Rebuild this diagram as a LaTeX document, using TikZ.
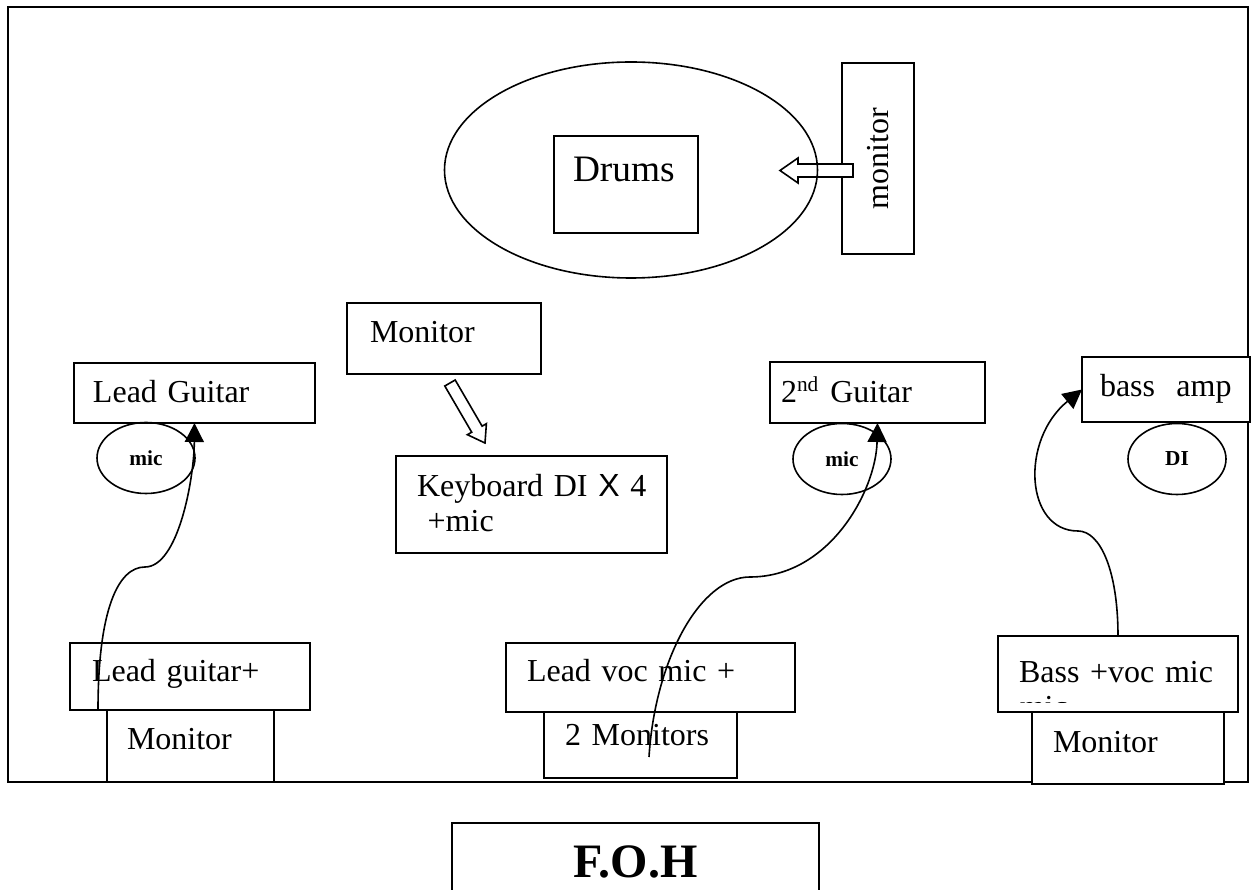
\documentclass[tikz,border=0pt]{standalone}
\usepackage{fontspec}
\setmainfont{Liberation Serif}
\newfontfamily\arialfont{Liberation Sans}
\usetikzlibrary{shapes.geometric}
\usetikzlibrary{arrows.meta}

\newcommand{\px}[1]{\fpeval{(#1)*0.375}pt}
\newcommand{\boxfont}{\fontsize{12}{13.1}\selectfont\spaceskip 2.6pt\relax}
\tikzset{
  stagebox/.style n args={4}{draw, fill=white, anchor=north west, align=left,
    outer sep=0pt, inner ysep=0pt, inner xsep=\px{#3},
    text width=\px{#1-2*#3}, text height=\px{#4}, text depth=\px{#2-#4},
    font=\boxfont},
  micbox/.style={draw, ellipse, inner sep=0pt, minimum width=\px{98},
    minimum height=\px{71}, font=\fontsize{8}{9}\selectfont\bfseries},
  cable/.style={-{Triangle[length=\px{19},width=\px{19}]}},
  cue/.style={draw, fill=white}
}

\begin{document}
\begin{tikzpicture}[x=0.375pt, y=-0.375pt, line width=0.6pt]
\useasboundingbox (0,0) rectangle (1252,890);
\clip (0,0) rectangle (1252,890);

% stage
\draw (8,7) rectangle (1248,782);

% drum riser
\node (drums) [stagebox={144}{97}{19}{46}, font=\fontsize{14}{16}\selectfont] at (554,136) {Drums};
\node (drummon) [draw, fill=white, rotate=90, inner sep=0pt, minimum width=\px{191},
  minimum height=\px{72}, font=\fontsize{12}{13.1}\selectfont] at (878,158.5) {monitor};
\draw[cue] (853,164) -- (798,164) -- (798,158) -- (780,170.5) -- (798,183) -- (798,177) -- (853,177) -- cycle;
\node (riser) [draw, ellipse, minimum width=\px{373}, minimum height=\px{216}] at (631,170) {};

% keyboard
\node (keymon) [stagebox={194}{71}{23}{40}] at (347,303) {Monitor};
\draw[cue] (444.8,386) -- (455.2,380) -- (482.1,426.2) -- (486.4,423.7) -- (485,443) -- (467.4,434.7) -- (471.7,432.2) -- cycle;
\node (keys) [stagebox={271}{97}{21}{41}] at (396,456) {\mbox{Keyboard DI {\arialfont X} 4}\\\ +mic};

% amps and mics
\node (leadgtr) [stagebox={241}{60}{19}{40}] at (74,363) {Lead Guitar};
\node (micL) [micbox] at (146,458) {mic};
\node (gtr2) [stagebox={215}{61}{11}{41}] at (770,362) {2\textsuperscript{nd} Guitar};
\node (micR) [micbox] at (842,459) {mic};
\node (bassamp) [stagebox={168}{65}{18}{40}] at (1082,357) {bass\ \ amp};
\node (di) [micbox] at (1177,459) {DI};

% front line
\node (leadpos) [stagebox={240}{67}{22}{39}] at (70,643) {Lead guitar+};
\node (monL) [stagebox={167}{72}{20}{40}] at (107,710) {Monitor};
\node (vocpos) [stagebox={289}{69}{21}{39}] at (506,643) {Lead voc mic +};
\node (monC) [stagebox={193}{66}{21}{34}] at (544,712) {2 Monitors};
\node (basspos) [stagebox={240}{76}{21}{47}] at (998,636) {Bass +voc mic};
\begin{scope}
\clip (998,636) rectangle (1238,703);
\node (basscut) [anchor=base west, inner sep=0pt, font=\fontsize{12}{13.1}\selectfont] at (1019,718) {mic};
\end{scope}
\node (monR) [stagebox={192}{72}{21}{41}] at (1032,712) {Monitor};

\node (foh) [stagebox={367}{100}{20}{55}, align=center, font=\fontsize{18}{20}\selectfont\bfseries] at (452,823) {F.O.H};

% cables
\coordinate (plugL) at (98,710);
\coordinate (plugC) at (649,757);
\draw[cable] (plugL) .. controls (98,610) and (118,567) .. (145,567) .. controls (178,567) and (194,480) .. (leadgtr.south);
\draw[cable] (plugC) .. controls (655,660) and (700,577) .. (750,577) .. controls (830,577) and (876,490) .. (gtr2.south);
\draw[cable] (basspos.north) .. controls (1118,570) and (1100,531) .. (1078,531) .. controls (1025,531) and (1020,440) .. (bassamp.west);

\end{tikzpicture}
\end{document}
